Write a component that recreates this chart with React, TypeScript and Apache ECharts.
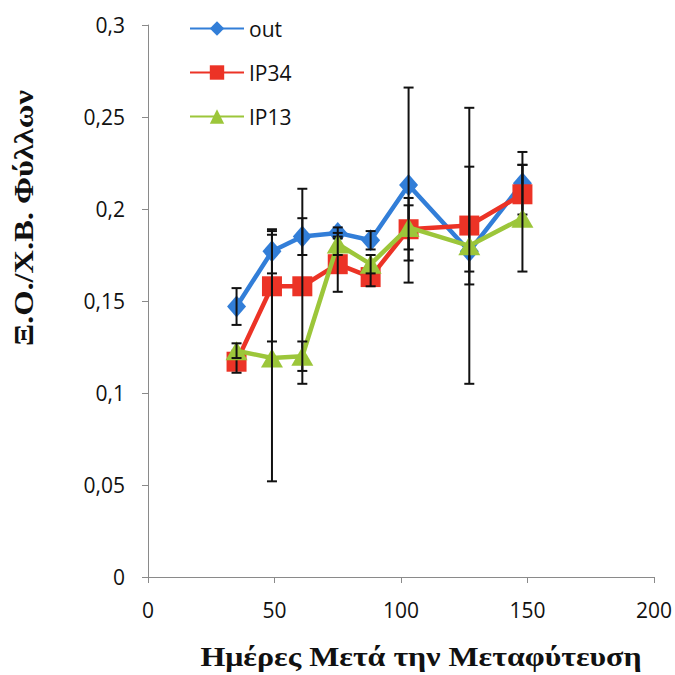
import React, { useEffect, useRef } from "react";
import * as echarts from "echarts";

const days = [35, 49, 61, 75, 88, 103, 127, 148];
const outValues = [0.147, 0.177, 0.185, 0.187, 0.183, 0.213, 0.177, 0.214];
const outErrors = [0.01, 0.012, 0.01, 0.003, 0.005, 0.053, 0.011, 0.017];
const ip34Values = [0.117, 0.158, 0.158, 0.17, 0.163, 0.189, 0.191, 0.208];
const ip34Errors = [0.006, 0.03, 0.053, 0.015, 0.005, 0.017, 0.032, 0.016];
const ip13Values = [0.123, 0.119, 0.12, 0.181, 0.17, 0.19, 0.18, 0.195];
const ip13Errors = [0.004, 0.067, 0.008, 0.006, 0.005, 0.012, 0.075, 0.029];
const seriesNames = ["out", "IP34", "IP13"];
const yTickLabels = ["0", "0,05", "0,1", "0,15", "0,2", "0,25", "0,3"];
const xTickLabels = ["0", "50", "100", "150", "200"];
const xTitle = "Ημέρες Μετά την Μεταφύτευση";
const yTitle = "Ξ.Ο./Χ.Β. Φύλλων";

const colors = ["#327ed8", "#ec3326", "#9cc63a"];
const symbols = ["diamond", "rect", "triangle"];
const symbolSizes = [[19, 22], 20, [22, 19]];

function errorSeries(values: number[], errors: number[], z: number) {
  return {
    type: "custom",
    z,
    silent: true,
    data: days.map((d, i) => [d, values[i] - errors[i], values[i] + errors[i]]),
    encode: { x: 0, y: [1, 2] },
    renderItem: (params: any, api: any) => {
      const x = api.value(0);
      const lo = api.coord([x, api.value(1)]);
      const hi = api.coord([x, api.value(2)]);
      const hw = 5;
      const style = { stroke: "#111", lineWidth: 2 };
      return {
        type: "group",
        children: [
          { type: "line", shape: { x1: lo[0], y1: lo[1], x2: hi[0], y2: hi[1] }, style },
          { type: "line", shape: { x1: lo[0] - hw, y1: lo[1], x2: lo[0] + hw, y2: lo[1] }, style },
          { type: "line", shape: { x1: hi[0] - hw, y1: hi[1], x2: hi[0] + hw, y2: hi[1] }, style },
        ],
      };
    },
  };
}

function lineSeries(idx: number, values: number[], z: number) {
  return {
    type: "line",
    name: seriesNames[idx],
    z,
    data: days.map((d, i) => [d, values[i]]),
    symbol: symbols[idx],
    symbolSize: symbolSizes[idx],
    lineStyle: { color: colors[idx], width: 4.5 },
    itemStyle: { color: colors[idx] },
  };
}

export default function App() {
  const ref = useRef<HTMLDivElement>(null);
  useEffect(() => {
    document.body.style.margin = "0";
    const chart = echarts.init(ref.current!, null, { renderer: "svg" });
    chart.setOption({
      animation: false,
      backgroundColor: "#fff",
      grid: { left: 148, right: 21, top: 25, bottom: 98 },
      legend: {
        orient: "vertical",
        left: 184,
        top: 13,
        itemWidth: 54,
        itemHeight: 18,
        itemGap: 23,
        data: seriesNames,
        textStyle: { fontFamily: "Open Sans", fontSize: 21, color: "#111" },
      },
      xAxis: {
        type: "value",
        min: 0,
        max: 200,
        interval: 50,
        axisLine: { show: true, lineStyle: { color: "#8a8a8a", width: 1 } },
        axisTick: { show: true, length: 6, lineStyle: { color: "#8a8a8a" } },
        splitLine: { show: false },
        axisLabel: {
          margin: 22,
          fontFamily: "Open Sans",
          fontSize: 21,
          color: "#111",
          formatter: (v: number) => xTickLabels[Math.round(v / 50)],
        },
      },
      yAxis: {
        type: "value",
        min: 0,
        max: 0.3,
        interval: 0.05,
        axisLine: { show: true, lineStyle: { color: "#8a8a8a", width: 1 } },
        axisTick: { show: true, length: 6, lineStyle: { color: "#8a8a8a" } },
        splitLine: { show: false },
        axisLabel: {
          margin: 23,
          fontFamily: "Open Sans",
          fontSize: 21,
          color: "#111",
          formatter: (v: number) => yTickLabels[Math.round(v / 0.05)],
        },
      },
      graphic: [
        {
          type: "text",
          x: 421,
          y: 656,
          scaleX: 1.14,
          style: {
            text: xTitle,
            font: "bold 28px 'Liberation Serif'",
            fill: "#111",
            align: "center",
            verticalAlign: "middle",
          },
        },
        {
          type: "text",
          x: 24,
          y: 218,
          rotation: Math.PI / 2,
          scaleX: 1.16,
          style: {
            text: yTitle,
            font: "bold 28px 'Liberation Serif'",
            fill: "#111",
            align: "center",
            verticalAlign: "middle",
          },
        },
      ],
      series: [
        lineSeries(0, outValues, 2),
        errorSeries(outValues, outErrors, 3),
        lineSeries(1, ip34Values, 4),
        errorSeries(ip34Values, ip34Errors, 5),
        lineSeries(2, ip13Values, 6),
        errorSeries(ip13Values, ip13Errors, 7),
      ],
    });
    return () => chart.dispose();
  }, []);
  return <div ref={ref} style={{ width: 675, height: 675 }} />;
}
